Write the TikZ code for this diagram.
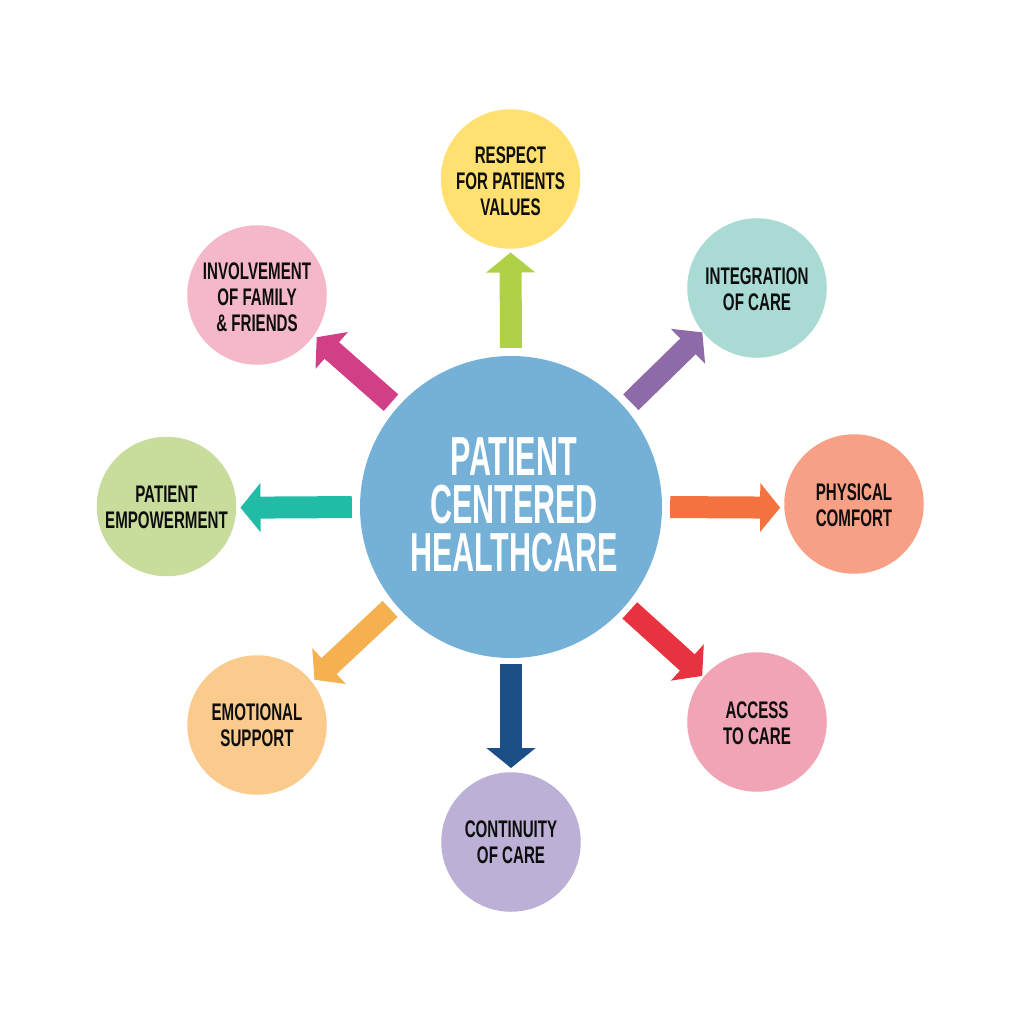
\documentclass[tikz,border=0pt]{standalone}
\usepackage{fontspec}
\setmainfont{Liberation Sans}
\newfontface\smallf[FakeStretch=0.63]{Liberation Sans Bold}
\newfontface\bigf[FakeStretch=0.555]{Liberation Sans Bold}
\usetikzlibrary{arrows.meta}
\definecolor{hubc}{HTML}{75B0D6}
% pushes a block of capitals down by #1 pt inside its circle
\newcommand\dn[1]{\rule{0pt}{\dimexpr 17pt+#1pt+#1pt\relax}}
\newcommand\rt{\hspace*{6pt}}
\tikzset{
 x=1pt,y=-1pt,
 leaf/.style={circle,minimum size=139.5pt,inner sep=0pt,align=center,text=black!95,font=\smallf\fontsize{24}{26}\selectfont},
 hubn/.style={circle,minimum size=302pt,inner sep=0pt,fill=hubc,text=white,align=center,font=\bigf\fontsize{55}{48}\selectfont},
 arrowc/.style={line width=22pt,-{Triangle[length=20pt,width=48pt]}},
}
\begin{document}
\begin{tikzpicture}
\useasboundingbox (0,0) rectangle (1024,1024);
\fill[white] (0,0) rectangle (1024,1024);
\node[hubn] (hub) at (511,507) {\rt PATIENT\\\rt CENTERED\\\rt HEALTHCARE\rule[-4pt]{0pt}{4pt}};
\node[leaf,fill={rgb,255:red,255;green,224;blue,112}] (respect) at (510.5,179) {\dn{2}RESPECT\\FOR PATIENTS\\VALUES};
\node[leaf,fill={rgb,255:red,169;green,219;blue,212}] (integ) at (757,288) {\dn{1}INTEGRATION\\OF CARE};
\node[leaf,fill={rgb,255:red,247;green,160;blue,133}] (phys) at (854,504) {\dn{1}PHYSICAL\\COMFORT};
\node[leaf,fill={rgb,255:red,240;green,164;blue,182}] (access) at (757,722) {\dn{1}ACCESS\\TO CARE};
\node[leaf,fill={rgb,255:red,188;green,176;blue,214}] (cont) at (511,842) {CONTINUITY\\OF CARE};
\node[leaf,fill={rgb,255:red,251;green,203;blue,142}] (emo) at (257,725) {EMOTIONAL\\SUPPORT};
\node[leaf,fill={rgb,255:red,200;green,220;blue,156}] (emp) at (166.5,506.5) {\dn{1}PATIENT\\EMPOWERMENT};
\node[leaf,fill={rgb,255:red,245;green,184;blue,200}] (inv) at (257,295) {\dn{2}INVOLVEMENT\\OF FAMILY\\\& FRIENDS};
\draw[arrowc,draw={rgb,255:red,175;green,209;blue,71},shorten <=8pt,shorten >=3.5pt] (hub.90) -- (respect.270);
\draw[arrowc,draw={rgb,255:red,142;green,107;blue,168},shorten <=8pt,shorten >=0.5pt] (hub.41.7) -- (integ.219.8);
\draw[arrowc,draw={rgb,255:red,243;green,114;blue,64},shorten <=8pt,shorten >=4pt] (hub.-0.4) -- (phys.183.1);
\draw[arrowc,draw={rgb,255:red,232;green,50;blue,63},shorten <=6.3pt,shorten >=1.7pt] (hub.-41.4) -- (access.140.1);
\draw[arrowc,draw={rgb,255:red,27;green,79;blue,134},shorten <=6pt,shorten >=4pt] (hub.270) -- (cont.90);
\draw[arrowc,draw={rgb,255:red,245;green,176;blue,79},shorten <=7pt,shorten >=3.2pt] (hub.220.6) -- (emo.38.9);
\draw[arrowc,draw={rgb,255:red,34;green,187;blue,166},shorten <=8pt,shorten >=4pt] (hub.180.5) -- (emp.-1.9);
\draw[arrowc,draw={rgb,255:red,209;green,63;blue,134},shorten <=7.8pt,shorten >=3.2pt] (hub.139.1) -- (inv.-35);
\end{tikzpicture}
\end{document}
